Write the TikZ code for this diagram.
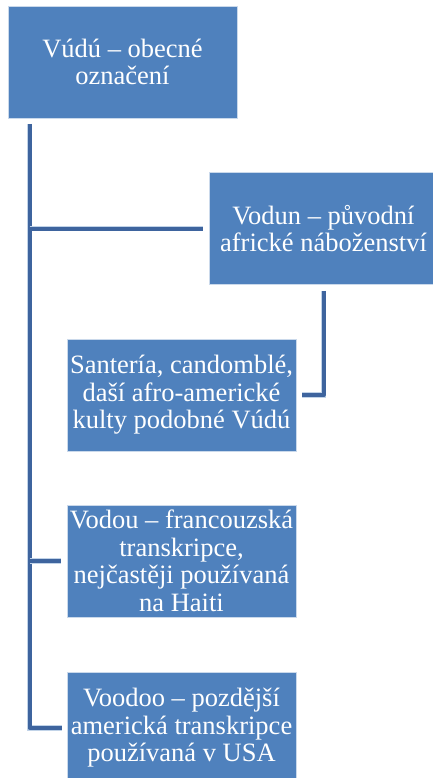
\documentclass[tikz,border=0pt]{standalone}
\usepackage{fontspec}
\setmainfont{Liberation Serif}
\definecolor{boxblue}{RGB}{79,129,189}
\definecolor{linkblue}{RGB}{62,100,158}
\tikzset{
  term/.style={fill=boxblue, draw=white!70!boxblue, line width=0.8pt, text=white,
    minimum width=229pt, minimum height=112pt, inner sep=1pt, align=center,
    font=\fontsize{26.5}{27.5}\selectfont},
  link/.style={draw=linkblue, line width=4pt, line join=round,
    preaction={draw=white!65!boxblue, line width=5.5pt}}
}
\begin{document}
\begin{tikzpicture}[x=1pt,y=-1pt]
\useasboundingbox (0,0) rectangle (432,778);

\node[term] (vudu)   at (122.5,62)  {Vúdú – obecné\\označení};
\node[term] (vodun)  at (323.5,228.5) {Vodun – původní\\africké náboženství};
\node[term] (santer) at (181.5,395) {Santería, candomblé,\\daší afro-americké\\kulty podobné Vúdú};
\node[term] (vodou)  at (181.5,561) {Vodou – francouzská\\transkripce,\\nejčastěji používaná\\na Haiti};
\node[term] (voodoo) at (181.5,728) {Voodoo – pozdější\\americká transkripce\\používaná v USA};

\coordinate (trunk) at (29.5,124);

\draw[link] (trunk) |- ([xshift=-5pt]voodoo.west);
\draw[link] (trunk |- vodun.west) -- ([xshift=-6pt]vodun.west);
\draw[link] (trunk |- vodou.west) -- ([xshift=-6pt]vodou.west);
\draw[link] ([yshift=-6pt]vodun.south) |- ([xshift=6pt]santer.east);
\end{tikzpicture}
\end{document}
